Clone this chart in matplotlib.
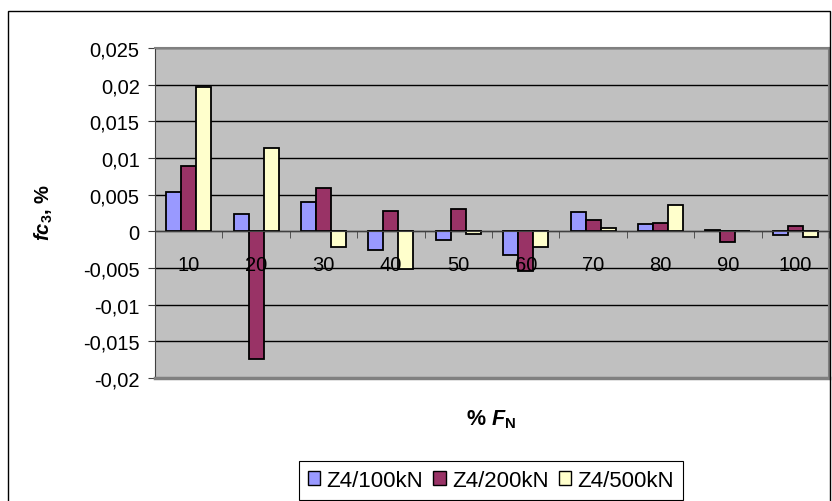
import numpy as np
import matplotlib
matplotlib.use("Agg")
import matplotlib.pyplot as plt
from matplotlib.patches import Patch, Rectangle

plt.rcParams['font.family'] = ['Liberation Sans', 'DejaVu Sans']
plt.rcParams['mathtext.fontset'] = 'custom'
plt.rcParams['mathtext.rm'] = 'Liberation Sans'
plt.rcParams['mathtext.it'] = 'Liberation Sans:italic'
plt.rcParams['mathtext.bf'] = 'Liberation Sans:bold'
plt.rcParams['mathtext.bfit'] = 'Liberation Sans:bold:italic'

categories = ["10", "20", "30", "40", "50", "60", "70", "80", "90", "100"]
series_names = ["Z4/100kN", "Z4/200kN", "Z4/500kN"]
z4_100 = [0.0053, 0.0024, 0.0040, -0.0026, -0.0012, -0.0032, 0.0026, 0.00095, 0.0002, -0.0005]
z4_200 = [0.0089, -0.0174, 0.0059, 0.0028, 0.0030, -0.0054, 0.0016, 0.0012, -0.0014, 0.0007]
z4_500 = [0.0197, 0.0113, -0.0021, -0.0051, -0.0003, -0.0022, 0.0005, 0.0036, 0.00005, -0.0008]
colors = ["#9999FF", "#993366", "#FFFFCC"]
yticks = [-0.02, -0.015, -0.01, -0.005, 0, 0.005, 0.01, 0.015, 0.02, 0.025]

fig = plt.figure(figsize=(8.32, 5.02), dpi=100)
ax = fig.add_axes([155/832, 1 - 379/502, 674/832, 330/502])
ax.set_facecolor("#C0C0C0")

x = np.arange(1, len(categories) + 1)
w = 1 / 4.5
for k, vals in enumerate([z4_100, z4_200, z4_500]):
    ax.bar(x + (k - 1) * w, vals, width=w, color=colors[k], edgecolor="black",
           linewidth=1.3, zorder=2)

ax.set_xlim(0.5, len(categories) + 0.5)
ax.set_ylim(-0.02, 0.025)
ax.set_yticks(yticks)
ax.set_yticklabels([f"{v:g}".replace(".", ",") for v in yticks], fontsize=14.5)
ax.yaxis.grid(True, color="black", linewidth=1)
ax.set_axisbelow(True)
ax.xaxis.set_zorder(3)  # category labels sit on top of the bars, like Excel

ax.spines["bottom"].set_position(("data", 0))
ax.spines["bottom"].set_color("#404040")
for s in ["top", "right"]:
    ax.spines[s].set_color("#808080")
    ax.spines[s].set_linewidth(1.5)
ax.spines["left"].set_color("#404040")
ax.axhline(-0.02, color="#808080", linewidth=2.5, zorder=5, clip_on=False)

ax.set_xticks(x)
ax.set_xticklabels(categories, fontsize=14.5)
ax.set_xticks(np.arange(0.5, len(categories) + 1), minor=True)
ax.tick_params(axis="x", which="major", length=0, pad=17)
ax.tick_params(axis="x", which="minor", length=5, direction="out", color="#404040")
ax.tick_params(axis="y", length=5, direction="out", color="#404040", pad=6)

fig.text(44/832, 1 - 212/502, r"$\mathbfit{fc}_{\mathbf{3}}$, %", rotation=90,
         ha="center", va="center", fontsize=14.5, fontweight="bold")
fig.text(491/832, 1 - 420/502, r"% $\mathbfit{F}_{\mathbf{N}}$", ha="center",
         va="center", fontsize=15.5, fontweight="bold")

handles = [Patch(facecolor=c, edgecolor="black", linewidth=1) for c in colors]
leg = fig.legend(handles, series_names, loc="center",
                 bbox_to_anchor=(491/832, 1 - 481.5/502), ncol=3, fontsize=16,
                 handlelength=0.55, handleheight=0.55, handletextpad=0.3,
                 columnspacing=0.45, fancybox=False, framealpha=1,
                 edgecolor="black", borderpad=0.4, borderaxespad=0)
leg.get_frame().set_linewidth(0.8)

fig.patches.append(Rectangle((8/832, -0.01), 822/832, 1 - 12/502 + 0.01,
                             transform=fig.transFigure, fill=False,
                             edgecolor="black", linewidth=1))

fig.savefig("out.png", dpi=100)
